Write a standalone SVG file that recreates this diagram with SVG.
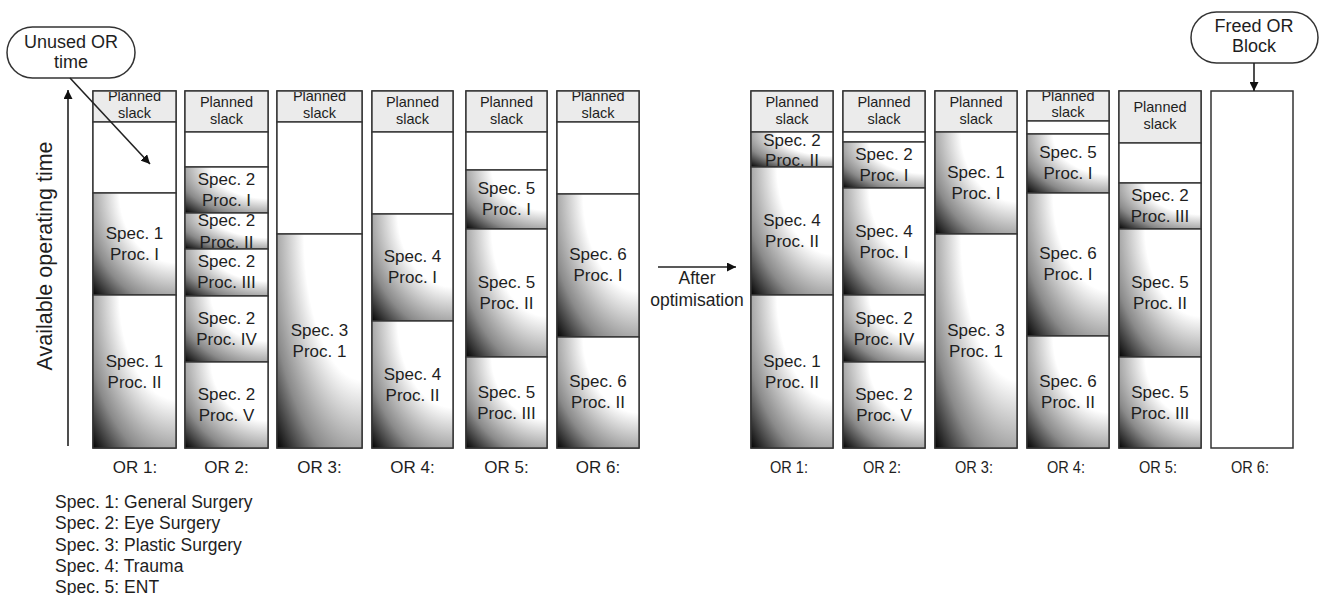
<svg xmlns="http://www.w3.org/2000/svg" width="1322" height="595" viewBox="0 0 1322 595">
<style>
.col{fill:#fff;stroke:#333;stroke-width:1.5}
.slack{fill:#ebebeb;stroke:#333;stroke-width:1.4}
.empty{fill:#fff;stroke:#333;stroke-width:1.4}
.blk{fill:url(#grad);stroke:#333;stroke-width:1.4}
text{font-family:"Liberation Sans",Arial,sans-serif;fill:#1e1e1e}
.st{font-size:14.5px;text-anchor:middle}
.bt{font-size:17px;text-anchor:middle}
.or{font-size:17px;text-anchor:middle}
.orr{font-size:16px;text-anchor:middle}
.lg{font-size:17.5px}
.call{fill:#fff;stroke:#333;stroke-width:1.5}
.ct{font-size:18px;text-anchor:middle}
.conn{stroke:#222;stroke-width:1.6;fill:none;marker-end:url(#ah)}
</style>
<defs>
<radialGradient id="grad" cx="1" cy="0" r="1.42" fx="1" fy="0">
<stop offset="0" stop-color="#fff"/>
<stop offset="0.48" stop-color="#fff"/>
<stop offset="0.78" stop-color="#8a8a8a"/>
<stop offset="1" stop-color="#000"/>
</radialGradient>
<marker id="ah" viewBox="0 0 10 10" refX="10" refY="5" markerWidth="9" markerHeight="9" markerUnits="userSpaceOnUse" orient="auto">
<path d="M0,0 L10,5 L0,10 z" fill="#111"/>
</marker>
<clipPath id="cL1s"><rect x="93" y="92" width="83" height="30"/></clipPath>
<clipPath id="cL3s"><rect x="277" y="92" width="85" height="30"/></clipPath>
<clipPath id="cL6s"><rect x="557" y="92" width="82" height="30"/></clipPath>
<clipPath id="cR4s"><rect x="1027" y="92" width="82" height="29"/></clipPath>
<clipPath id="cL2p2"><rect x="185" y="213" width="83" height="36"/></clipPath>
<clipPath id="cR1p2"><rect x="751" y="132" width="82" height="35"/></clipPath>
</defs>

<rect width="1322" height="595" fill="#fff"/>

<!-- Callouts -->
<g id="unused-callout">
<rect class="call" x="7" y="27" width="128" height="51" rx="25.5"/>
<text class="ct" x="71" y="48">Unused OR</text>
<text class="ct" x="71" y="68">time</text>
</g>
<g id="freed-callout">
<rect class="call" x="1191" y="12" width="127" height="51" rx="25.5"/>
<text class="ct" x="1254" y="32">Freed OR</text>
<text class="ct" x="1254" y="52">Block</text>
</g>

<!-- Axis label -->
<g id="axis-label">
<text transform="translate(52,256) rotate(-90)" style="font-size:21.5px;text-anchor:middle">Available operating time</text>
</g>

<!-- BEFORE -->
<g id="before-or1">
<rect class="col" x="93" y="91" width="83" height="357"/>
<rect class="slack" x="93" y="91" width="83" height="31"/>
<g clip-path="url(#cL1s)"><text class="st" x="134.5" y="101">Planned</text><text class="st" x="134.5" y="118">slack</text></g>
<rect class="empty" x="93" y="122" width="83" height="71"/>
<rect class="blk" x="93" y="193" width="83" height="102"/>
<text class="bt" x="134.5" y="239">Spec. 1</text><text class="bt" x="134.5" y="260">Proc. I</text>
<rect class="blk" x="93" y="295" width="83" height="153"/>
<text class="bt" x="134.5" y="367">Spec. 1</text><text class="bt" x="134.5" y="388">Proc. II</text>
<text class="or" x="135" y="473">OR 1:</text>
</g>

<g id="before-or2">
<rect class="col" x="185" y="91" width="83" height="357"/>
<rect class="slack" x="185" y="91" width="83" height="41"/>
<text class="st" x="226.5" y="107">Planned</text><text class="st" x="226.5" y="124">slack</text>
<rect class="empty" x="185" y="132" width="83" height="35"/>
<rect class="blk" x="185" y="167" width="83" height="46"/>
<text class="bt" x="226.5" y="185">Spec. 2</text><text class="bt" x="226.5" y="206">Proc. I</text>
<rect class="blk" x="185" y="213" width="83" height="36"/>
<g clip-path="url(#cL2p2)"><text class="bt" x="226.5" y="226">Spec. 2</text><text class="bt" x="226.5" y="248">Proc. II</text></g>
<rect class="blk" x="185" y="249" width="83" height="47"/>
<text class="bt" x="226.5" y="267">Spec. 2</text><text class="bt" x="226.5" y="288">Proc. III</text>
<rect class="blk" x="185" y="296" width="83" height="66"/>
<text class="bt" x="226.5" y="324">Spec. 2</text><text class="bt" x="226.5" y="345">Proc. IV</text>
<rect class="blk" x="185" y="362" width="83" height="86"/>
<text class="bt" x="226.5" y="400">Spec. 2</text><text class="bt" x="226.5" y="421">Proc. V</text>
<text class="or" x="226.5" y="473">OR 2:</text>
</g>

<g id="before-or3">
<rect class="col" x="277" y="91" width="85" height="357"/>
<rect class="slack" x="277" y="91" width="85" height="31"/>
<g clip-path="url(#cL3s)"><text class="st" x="319.5" y="101">Planned</text><text class="st" x="319.5" y="118">slack</text></g>
<rect class="empty" x="277" y="122" width="85" height="112"/>
<rect class="blk" x="277" y="234" width="85" height="214"/>
<text class="bt" x="319.5" y="336">Spec. 3</text><text class="bt" x="319.5" y="357">Proc. 1</text>
<text class="or" x="319.5" y="473">OR 3:</text>
</g>

<g id="before-or4">
<rect class="col" x="372" y="91" width="81" height="357"/>
<rect class="slack" x="372" y="91" width="81" height="41"/>
<text class="st" x="412.5" y="107">Planned</text><text class="st" x="412.5" y="124">slack</text>
<rect class="empty" x="372" y="132" width="81" height="82"/>
<rect class="blk" x="372" y="214" width="81" height="107"/>
<text class="bt" x="412.5" y="262">Spec. 4</text><text class="bt" x="412.5" y="283">Proc. I</text>
<rect class="blk" x="372" y="321" width="81" height="127"/>
<text class="bt" x="412.5" y="380">Spec. 4</text><text class="bt" x="412.5" y="401">Proc. II</text>
<text class="or" x="412.5" y="473">OR 4:</text>
</g>

<g id="before-or5">
<rect class="col" x="466" y="91" width="81" height="357"/>
<rect class="slack" x="466" y="91" width="81" height="41"/>
<text class="st" x="506.5" y="107">Planned</text><text class="st" x="506.5" y="124">slack</text>
<rect class="empty" x="466" y="132" width="81" height="38"/>
<rect class="blk" x="466" y="170" width="81" height="59"/>
<text class="bt" x="506.5" y="194">Spec. 5</text><text class="bt" x="506.5" y="215">Proc. I</text>
<rect class="blk" x="466" y="229" width="81" height="128"/>
<text class="bt" x="506.5" y="288">Spec. 5</text><text class="bt" x="506.5" y="309">Proc. II</text>
<rect class="blk" x="466" y="357" width="81" height="91"/>
<text class="bt" x="506.5" y="398">Spec. 5</text><text class="bt" x="506.5" y="419">Proc. III</text>
<text class="or" x="506.5" y="473">OR 5:</text>
</g>

<g id="before-or6">
<rect class="col" x="557" y="91" width="82" height="357"/>
<rect class="slack" x="557" y="91" width="82" height="31"/>
<g clip-path="url(#cL6s)"><text class="st" x="598" y="101">Planned</text><text class="st" x="598" y="118">slack</text></g>
<rect class="empty" x="557" y="122" width="82" height="72"/>
<rect class="blk" x="557" y="194" width="82" height="143"/>
<text class="bt" x="598" y="260">Spec. 6</text><text class="bt" x="598" y="281">Proc. I</text>
<rect class="blk" x="557" y="337" width="82" height="111"/>
<text class="bt" x="598" y="387">Spec. 6</text><text class="bt" x="598" y="408">Proc. II</text>
<text class="or" x="598" y="473">OR 6:</text>
</g>

<!-- After optimisation label -->
<g id="after-label">
<text class="ct" style="font-size:17.5px" x="697" y="284">After</text>
<text class="ct" style="font-size:17.5px" x="697" y="306">optimisation</text>
</g>

<!-- AFTER -->
<g id="after-or1">
<rect class="col" x="751" y="91" width="82" height="357"/>
<rect class="slack" x="751" y="91" width="82" height="41"/>
<text class="st" x="792" y="107">Planned</text><text class="st" x="792" y="124">slack</text>
<rect class="blk" x="751" y="132" width="82" height="35"/>
<g clip-path="url(#cR1p2)"><text class="bt" x="792" y="146">Spec. 2</text><text class="bt" x="792" y="166">Proc. II</text></g>
<rect class="blk" x="751" y="167" width="82" height="128"/>
<text class="bt" x="792" y="226">Spec. 4</text><text class="bt" x="792" y="247">Proc. II</text>
<rect class="blk" x="751" y="295" width="82" height="153"/>
<text class="bt" x="792" y="367">Spec. 1</text><text class="bt" x="792" y="388">Proc. II</text>
<text class="orr" x="789" y="473" textLength="38" lengthAdjust="spacingAndGlyphs">OR 1:</text>
</g>

<g id="after-or2">
<rect class="col" x="843" y="91" width="82" height="357"/>
<rect class="slack" x="843" y="91" width="82" height="41"/>
<text class="st" x="884" y="107">Planned</text><text class="st" x="884" y="124">slack</text>
<rect class="empty" x="843" y="132" width="82" height="10"/>
<rect class="blk" x="843" y="142" width="82" height="46"/>
<text class="bt" x="884" y="160">Spec. 2</text><text class="bt" x="884" y="181">Proc. I</text>
<rect class="blk" x="843" y="188" width="82" height="107"/>
<text class="bt" x="884" y="237">Spec. 4</text><text class="bt" x="884" y="258">Proc. I</text>
<rect class="blk" x="843" y="295" width="82" height="67"/>
<text class="bt" x="884" y="324">Spec. 2</text><text class="bt" x="884" y="345">Proc. IV</text>
<rect class="blk" x="843" y="362" width="82" height="86"/>
<text class="bt" x="884" y="400">Spec. 2</text><text class="bt" x="884" y="421">Proc. V</text>
<text class="orr" x="882" y="473" textLength="38" lengthAdjust="spacingAndGlyphs">OR 2:</text>
</g>

<g id="after-or3">
<rect class="col" x="935" y="91" width="82" height="357"/>
<rect class="slack" x="935" y="91" width="82" height="41"/>
<text class="st" x="976" y="107">Planned</text><text class="st" x="976" y="124">slack</text>
<rect class="blk" x="935" y="132" width="82" height="102"/>
<text class="bt" x="976" y="178">Spec. 1</text><text class="bt" x="976" y="199">Proc. I</text>
<rect class="blk" x="935" y="234" width="82" height="214"/>
<text class="bt" x="976" y="336">Spec. 3</text><text class="bt" x="976" y="357">Proc. 1</text>
<text class="orr" x="974" y="473" textLength="38" lengthAdjust="spacingAndGlyphs">OR 3:</text>
</g>

<g id="after-or4">
<rect class="col" x="1027" y="91" width="82" height="357"/>
<rect class="slack" x="1027" y="91" width="82" height="30"/>
<g clip-path="url(#cR4s)"><text class="st" x="1068" y="101">Planned</text><text class="st" x="1068" y="117">slack</text></g>
<rect class="empty" x="1027" y="121" width="82" height="13"/>
<rect class="blk" x="1027" y="134" width="82" height="59"/>
<text class="bt" x="1068" y="158">Spec. 5</text><text class="bt" x="1068" y="179">Proc. I</text>
<rect class="blk" x="1027" y="193" width="82" height="143"/>
<text class="bt" x="1068" y="259">Spec. 6</text><text class="bt" x="1068" y="280">Proc. I</text>
<rect class="blk" x="1027" y="336" width="82" height="112"/>
<text class="bt" x="1068" y="387">Spec. 6</text><text class="bt" x="1068" y="408">Proc. II</text>
<text class="orr" x="1066" y="473" textLength="38" lengthAdjust="spacingAndGlyphs">OR 4:</text>
</g>

<g id="after-or5">
<rect class="col" x="1119" y="91" width="82" height="357"/>
<rect class="slack" x="1119" y="91" width="82" height="52"/>
<text class="st" x="1160" y="112">Planned</text><text class="st" x="1160" y="129">slack</text>
<rect class="empty" x="1119" y="143" width="82" height="40"/>
<rect class="blk" x="1119" y="183" width="82" height="46"/>
<text class="bt" x="1160" y="201">Spec. 2</text><text class="bt" x="1160" y="222">Proc. III</text>
<rect class="blk" x="1119" y="229" width="82" height="128"/>
<text class="bt" x="1160" y="288">Spec. 5</text><text class="bt" x="1160" y="309">Proc. II</text>
<rect class="blk" x="1119" y="357" width="82" height="91"/>
<text class="bt" x="1160" y="398">Spec. 5</text><text class="bt" x="1160" y="419">Proc. III</text>
<text class="orr" x="1158" y="473" textLength="38" lengthAdjust="spacingAndGlyphs">OR 5:</text>
</g>

<g id="after-or6">
<rect class="col" x="1211" y="91" width="82" height="357"/>
<text class="orr" x="1250" y="473" textLength="38" lengthAdjust="spacingAndGlyphs">OR 6:</text>
</g>

<!-- Legend -->
<g id="legend">
<text class="lg" x="55" y="508">Spec. 1: General Surgery</text>
<text class="lg" x="55" y="529">Spec. 2: Eye Surgery</text>
<text class="lg" x="55" y="551">Spec. 3: Plastic Surgery</text>
<text class="lg" x="55" y="572">Spec. 4: Trauma</text>
<text class="lg" x="55" y="593">Spec. 5: ENT</text>
</g>

<!-- Connectors -->
<g id="connectors">
<line class="conn" x1="68" y1="446" x2="68" y2="90"/>
<line class="conn" x1="70" y1="78" x2="150" y2="164"/>
<line class="conn" x1="1254" y1="63" x2="1254" y2="91"/>
<line class="conn" x1="658" y1="267" x2="736" y2="267"/>
</g>
</svg>
